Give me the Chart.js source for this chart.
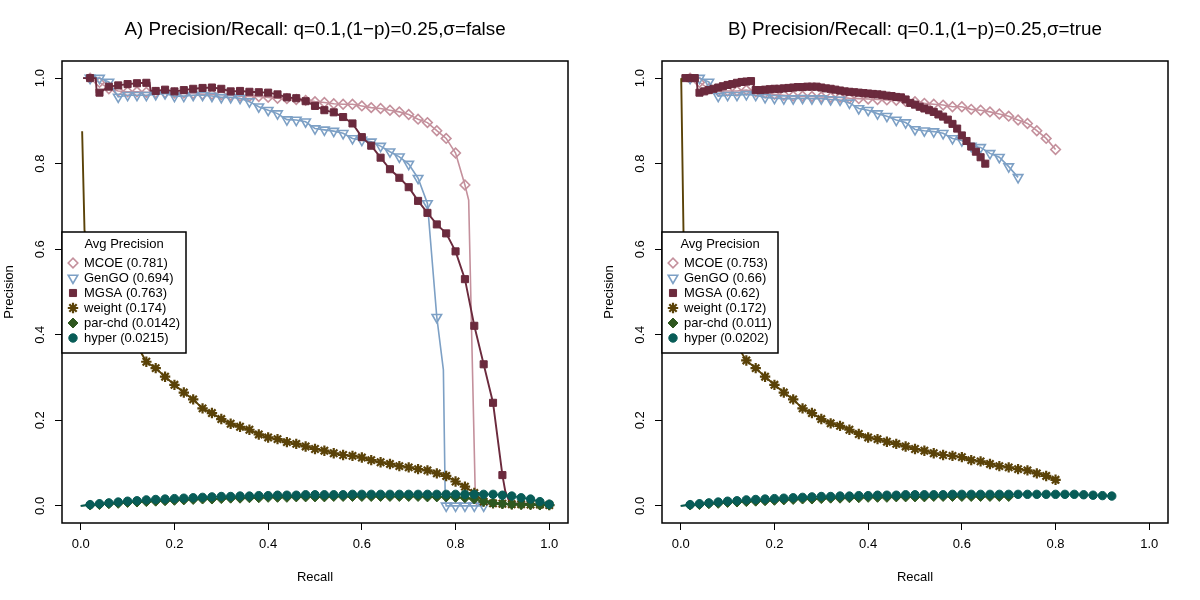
<!DOCTYPE html>
<html><head><meta charset="utf-8">
<script src="https://cdn.jsdelivr.net/npm/chart.js@4.4.1/dist/chart.umd.min.js"></script>
<style>
html,body{margin:0;padding:0;background:#fff}
#wrap{width:1200px;height:600px;position:relative;background:#fff}
canvas{position:absolute;top:0}
</style>
</head><body>
<div id="wrap">
<canvas id="cA" width="600" height="600" style="left:0"></canvas>
<canvas id="cB" width="600" height="600" style="left:600px"></canvas>
</div>
<script>
// ---------------- data ----------------
const titleA = 'A) Precision/Recall: q=0.1,(1\u2212p)=0.25,\u03c3=false';
const titleB = 'B) Precision/Recall: q=0.1,(1\u2212p)=0.25,\u03c3=true';
const xLabel = 'Recall';
const yLabel = 'Precision';
const legendTitle = 'Avg Precision';
const axisTicks = [0, 0.2, 0.4, 0.6, 0.8, 1.0];
const seriesNames = ['MCOE', 'GenGO', 'MGSA', 'weight', 'par-chd', 'hyper'];
const A_avgPrec = ['0.781', '0.694', '0.763', '0.174', '0.0142', '0.0215'];
const B_avgPrec = ['0.753', '0.66', '0.62', '0.172', '0.011', '0.0202'];

// recall positions of the plotted markers
const recallGrid = [0.02,0.04,0.06,0.08,0.10,0.12,0.14,0.16,0.18,0.20,0.22,0.24,0.26,0.28,0.30,0.32,0.34,0.36,0.38,0.40,
  0.42,0.44,0.46,0.48,0.50,0.52,0.54,0.56,0.58,0.60,0.62,0.64,0.66,0.68,0.70,0.72,0.74,0.76,0.78,0.80,
  0.82,0.84,0.86,0.88,0.90,0.92,0.94,0.96,0.98,1.00];
const recallGridFine = [0.01,0.02,0.03,0.04,0.05,0.06,0.07,0.08,0.09,0.10,0.11,0.12,0.13,0.14,0.15,0.16,0.17,0.18,0.19,0.20,
  0.21,0.22,0.23,0.24,0.25,0.26,0.27,0.28,0.29,0.30,0.31,0.32,0.33,0.34,0.35,0.36,0.37,0.38,0.39,0.40,
  0.41,0.42,0.43,0.44,0.45,0.46,0.47,0.48,0.49,0.50,0.51,0.52,0.53,0.54,0.55,0.56,0.57,0.58,0.59,0.60,
  0.61,0.62,0.63,0.64,0.65];

// ---- Panel A: precision at the marker recalls ----
const A_MCOE = [1.0,0.99,0.975,0.97,0.968,0.968,0.967,0.966,0.966,0.965,0.965,0.964,0.962,0.962,0.961,0.960,0.958,0.957,0.957,0.955,
  0.953,0.952,0.950,0.948,0.945,0.943,0.940,0.939,0.939,0.935,0.931,0.929,0.925,0.921,0.915,0.904,0.896,0.877,0.859,0.825,0.750];
const A_MCOE_path = [[0.005,1.0],[0.828,0.715],[0.842,0.03],[0.845,0.0]];
const A_GenGO = [1.0,1.0,0.991,0.956,0.96,0.96,0.96,0.962,0.964,0.958,0.958,0.96,0.96,0.958,0.955,0.955,0.953,0.945,0.933,0.925,
  0.917,0.903,0.902,0.898,0.882,0.879,0.876,0.871,0.859,0.855,0.851,0.841,0.828,0.816,0.799,0.766,0.707,0.441,0.0,0.0,
  0.0,0.0,0.0];
const A_GenGO_path = [[0.005,1.0],[0.774,0.318],[0.778,0.014]];
const A_MGSA = [1.0,0.966,0.980,0.983,0.986,0.988,0.989,0.970,0.973,0.969,0.972,0.975,0.977,0.978,0.975,0.969,0.970,0.968,0.967,0.966,
  0.962,0.955,0.953,0.946,0.935,0.925,0.920,0.909,0.894,0.862,0.842,0.814,0.787,0.767,0.745,0.713,0.685,0.658,0.637,0.595,
  0.530,0.421,0.331,0.241,0.072];
const A_MGSA_path = [[0.005,1.0],[0.032,1.0],[0.034,0.967],[0.147,0.989],[0.149,0.971],[0.906,0.035],[0.913,0.015],[0.92,0.006],[0.96,0.005]];
const A_weight = [0.55,0.49,0.45,0.42,0.395,0.375,0.337,0.322,0.302,0.283,0.265,0.249,0.228,0.217,0.203,0.192,0.185,0.178,0.167,0.160,
  0.156,0.149,0.145,0.139,0.133,0.129,0.123,0.119,0.117,0.113,0.107,0.102,0.098,0.093,0.090,0.086,0.083,0.076,0.070,0.057,
  0.045,0.030,0.010,0.006,0.005,0.004,0.004,0.003,0.003,0.002];
const A_weight_path = [[0.003,0.876],[0.008,0.645]];
const A_parchd = [0.002,0.003,0.005,0.006,0.008,0.009,0.010,0.011,0.012,0.013,0.014,0.015,0.016,0.016,0.017,0.018,0.018,0.019,0.019,0.020,
  0.020,0.020,0.021,0.021,0.021,0.021,0.022,0.022,0.022,0.022,0.022,0.022,0.022,0.022,0.022,0.022,0.021,0.021,0.021,0.020,
  0.019,0.016,0.011,0.007,0.005,0.004,0.003,0.003,0.002,0.002];
const A_parchd_path = [[0.0,0.0]];
const A_hyper = [0.003,0.005,0.007,0.009,0.011,0.012,0.014,0.015,0.016,0.017,0.018,0.019,0.020,0.021,0.022,0.022,0.023,0.023,0.024,0.024,
  0.025,0.025,0.025,0.026,0.026,0.026,0.026,0.026,0.027,0.027,0.027,0.027,0.027,0.027,0.027,0.027,0.027,0.027,0.027,0.027,
  0.027,0.027,0.027,0.027,0.025,0.023,0.019,0.016,0.010,0.004];
const A_hyper_path = [[0.0,0.0]];

// ---- Panel B ----
const B_MCOE = [1.0,0.99,0.975,0.97,0.97,0.97,0.972,0.968,0.965,0.962,0.960,0.958,0.958,0.957,0.956,0.955,0.955,0.953,0.952,0.951,
  0.950,0.949,0.948,0.946,0.945,0.941,0.939,0.937,0.933,0.933,0.927,0.925,0.921,0.916,0.911,0.902,0.894,0.877,0.859,0.833];
const B_MCOE_path = [[0.005,1.0]];
const B_GenGO = [1.0,1.0,0.991,0.958,0.96,0.96,0.962,0.96,0.955,0.953,0.952,0.952,0.953,0.952,0.952,0.950,0.949,0.942,0.929,0.925,
  0.917,0.911,0.902,0.896,0.880,0.877,0.875,0.871,0.859,0.854,0.841,0.838,0.824,0.815,0.793,0.768];
const B_GenGO_path = [[0.005,1.0]];
const B_MGSA = [1.0,1.0,1.0,0.966,0.969,0.972,0.975,0.978,0.981,0.984,0.986,0.989,0.991,0.992,0.993,0.972,0.972,0.973,0.974,0.975,
  0.975,0.976,0.977,0.978,0.979,0.979,0.980,0.980,0.980,0.978,0.976,0.975,0.973,0.971,0.969,0.968,0.967,0.966,0.965,0.964,
  0.963,0.962,0.961,0.959,0.958,0.956,0.955,0.950,0.942,0.938,0.933,0.929,0.925,0.921,0.915,0.910,0.903,0.893,0.882,0.866,
  0.853,0.840,0.828,0.815,0.800];
const B_MGSA_path = [[0.003,1.0],[0.034,1.0],[0.036,0.967],[0.155,0.993],[0.156,0.972]];
const B_weight = [0.56,0.50,0.46,0.43,0.40,0.375,0.340,0.322,0.302,0.283,0.265,0.249,0.228,0.217,0.203,0.193,0.187,0.178,0.168,0.160,
  0.156,0.150,0.145,0.139,0.133,0.129,0.123,0.119,0.117,0.114,0.107,0.104,0.098,0.093,0.090,0.086,0.083,0.076,0.070,0.061];
const B_weight_path = [[0.001,1.0],[0.006,0.63],[0.806,0.053]];
const B_parchd = [0.002,0.003,0.005,0.006,0.008,0.009,0.010,0.011,0.012,0.013,0.014,0.015,0.016,0.016,0.017,0.018,0.018,0.019,0.019,0.020,
  0.020,0.020,0.021,0.021,0.021,0.021,0.022,0.022,0.022,0.022,0.022,0.022,0.022,0.022,0.022];
const B_parchd_path = [[0.0,0.0]];
const B_hyper = [0.003,0.005,0.007,0.009,0.011,0.012,0.014,0.015,0.016,0.017,0.018,0.019,0.020,0.021,0.022,0.022,0.023,0.023,0.024,0.024,
  0.025,0.025,0.025,0.026,0.026,0.026,0.026,0.026,0.027,0.027,0.027,0.027,0.027,0.027,0.027,0.027,0.027,0.027,0.027,0.027,
  0.027,0.027,0.026,0.025,0.024,0.023];
const B_hyper_path = [[0.0,0.0]];

// ---------------- styles ----------------
const FONT = '"Liberation Sans", Arial, Helvetica, sans-serif';
const TXT = 13;
Chart.defaults.font.family = FONT;
Chart.defaults.font.size = TXT;
Chart.defaults.color = '#000';

const STY = [
  {color:'#C4909C', pointStyle:'rectRot', r:4.8, bw:1.6, fill:'rgba(0,0,0,0)', rot:0, lw:1.6},
  {color:'#7DA0C5', pointStyle:'triangle', r:5.5, bw:1.6, fill:'rgba(0,0,0,0)', rot:180, lw:1.6},
  {color:'#6B2A3D', pointStyle:'rect', r:5, bw:1, fill:'#6B2A3D', rot:0, lw:1.9},
  {color:'#5A4208', pointStyle:'star', r:5.2, bw:2.2, fill:'#5A4208', rot:0, lw:1.9},
  {color:'#2F5820', pointStyle:'rectRot', r:5, bw:1, fill:'#2F5820', rot:0, lw:1.6},
  {color:'#085C57', pointStyle:'circle', r:4.2, bw:1, fill:'#085C57', rot:0, lw:1.6}
];

function buildData(prec, grid, path) {
  const pts = prec.map((p, i) => ({x: grid[i], y: p, m: 1}));
  path.forEach(v => pts.push({x: v[0], y: v[1], m: 0}));
  pts.sort((a, b) => (a.x - b.x) || (b.y - a.y));
  return pts;
}

function makeDatasets(list, avg) {
  return list.map((s, i) => {
    const st = STY[i];
    return {
      label: seriesNames[i] + ' (' + avg[i] + ')',
      data: buildData(s.prec, s.grid, s.path),
      xAxisID: 'x', yAxisID: 'y',
      borderColor: st.color, borderWidth: st.lw, tension: 0, fill: false,
      pointStyle: st.pointStyle, pointRotation: st.rot,
      pointBackgroundColor: st.fill, pointBorderColor: st.color, pointBorderWidth: st.bw,
      pointRadius: (c) => (c.raw && c.raw.m) ? st.r : 0,
      legendRadius: st.r,
      order: 6 - i
    };
  });
}

const framePlugin = {
  id: 'rframe',
  afterDatasetsDraw(chart) {
    const ctx = chart.ctx, a = chart.chartArea;
    ctx.save();
    ctx.strokeStyle = '#000'; ctx.lineWidth = 1.5;
    ctx.strokeRect(a.left, a.top, a.right - a.left, a.bottom - a.top);
    // legend (R style, inside the plot at left-centre)
    ctx.font = TXT + 'px ' + FONT;
    const dsets = chart.data.datasets;
    let maxW = ctx.measureText(legendTitle).width;
    dsets.forEach(d => { maxW = Math.max(maxW, ctx.measureText(d.label).width); });
    const left = a.left, right = Math.round(a.left + 22 + maxW + 6);
    const cy = (a.top + a.bottom) / 2;
    const top = Math.round(cy - 60.5), bottom = top + 121;
    ctx.fillStyle = '#fff';
    ctx.fillRect(left, top, right - left, bottom - top);
    ctx.strokeStyle = '#000'; ctx.lineWidth = 1.5;
    ctx.strokeRect(left, top, right - left, bottom - top);
    ctx.fillStyle = '#000'; ctx.textBaseline = 'middle'; ctx.textAlign = 'center';
    ctx.fillText(legendTitle, (left + right) / 2, top + 12);
    ctx.textAlign = 'left';
    dsets.forEach((d, k) => {
      const y = top + 31 + 15 * k;
      ctx.save();
      ctx.fillStyle = d.pointBackgroundColor; ctx.strokeStyle = d.pointBorderColor; ctx.lineWidth = d.pointBorderWidth;
      Chart.helpers.drawPoint(ctx, {pointStyle: d.pointStyle, rotation: d.pointRotation, radius: d.legendRadius, borderWidth: d.pointBorderWidth}, left + 11, y);
      ctx.restore();
      ctx.fillStyle = '#000';
      ctx.fillText(d.label, left + 22, y + 0.5);
    });
    ctx.restore();
  }
};

function makeChart(id, title, list, avg) {
  return new Chart(document.getElementById(id), {
    type: 'line',
    data: {datasets: makeDatasets(list, avg)},
    options: {
      responsive: false, animation: false, devicePixelRatio: 1, events: [],
      layout: {padding: {left: 0, right: 32, top: 0, bottom: 0}},
      plugins: {legend: {display: false}, title: {display: false}, tooltip: {enabled: false}},
      scales: {
        x: {
          type: 'linear', position: 'bottom', min: -0.04, max: 1.04,
          afterBuildTicks: s => { s.ticks = axisTicks.map(v => ({value: v})); },
          afterFit: s => { s.height = 77; },
          ticks: {callback: v => Number(v).toFixed(1), padding: 7, maxRotation: 0, autoSkip: false, color: '#000', font: {size: TXT}},
          grid: {display: true, drawOnChartArea: false, drawTicks: true, tickLength: 7, color: '#000', lineWidth: 1},
          border: {display: false},
          title: {display: true, text: xLabel, color: '#000', font: {size: TXT}, padding: {top: 0, bottom: 15}}
        },
        y: {
          type: 'linear', position: 'left', min: -0.04, max: 1.04,
          afterBuildTicks: s => { s.ticks = axisTicks.map(v => ({value: v})); },
          afterFit: s => { s.width = 62; },
          ticks: {callback: v => Number(v).toFixed(1), padding: 6, minRotation: 90, maxRotation: 90, crossAlign: 'center', autoSkip: false, color: '#000', font: {size: TXT}},
          grid: {display: true, drawOnChartArea: false, drawTicks: true, tickLength: 7, color: '#000', lineWidth: 1},
          border: {display: false},
          title: {display: true, text: yLabel, color: '#000', font: {size: TXT}, padding: {top: 2, bottom: 0}}
        },
        xTop: {
          type: 'linear', axis: 'x', position: 'top', display: true,
          afterFit: s => { s.height = 61; },
          ticks: {display: false}, grid: {display: false}, border: {display: false},
          title: {display: true, text: title, color: '#000', font: {size: 18.8}, padding: {top: 19, bottom: 0}}
        }
      }
    },
    plugins: [framePlugin]
  });
}

const A_series = [
  {prec: A_MCOE, grid: recallGrid, path: A_MCOE_path},
  {prec: A_GenGO, grid: recallGrid, path: A_GenGO_path},
  {prec: A_MGSA, grid: recallGrid, path: A_MGSA_path},
  {prec: A_weight, grid: recallGrid, path: A_weight_path},
  {prec: A_parchd, grid: recallGrid, path: A_parchd_path},
  {prec: A_hyper, grid: recallGrid, path: A_hyper_path}
];
const B_series = [
  {prec: B_MCOE, grid: recallGrid, path: B_MCOE_path},
  {prec: B_GenGO, grid: recallGrid, path: B_GenGO_path},
  {prec: B_MGSA, grid: recallGridFine, path: B_MGSA_path},
  {prec: B_weight, grid: recallGrid, path: B_weight_path},
  {prec: B_parchd, grid: recallGrid, path: B_parchd_path},
  {prec: B_hyper, grid: recallGrid, path: B_hyper_path}
];
makeChart('cA', titleA, A_series, A_avgPrec);
makeChart('cB', titleB, B_series, B_avgPrec);
</script>
</body></html>
